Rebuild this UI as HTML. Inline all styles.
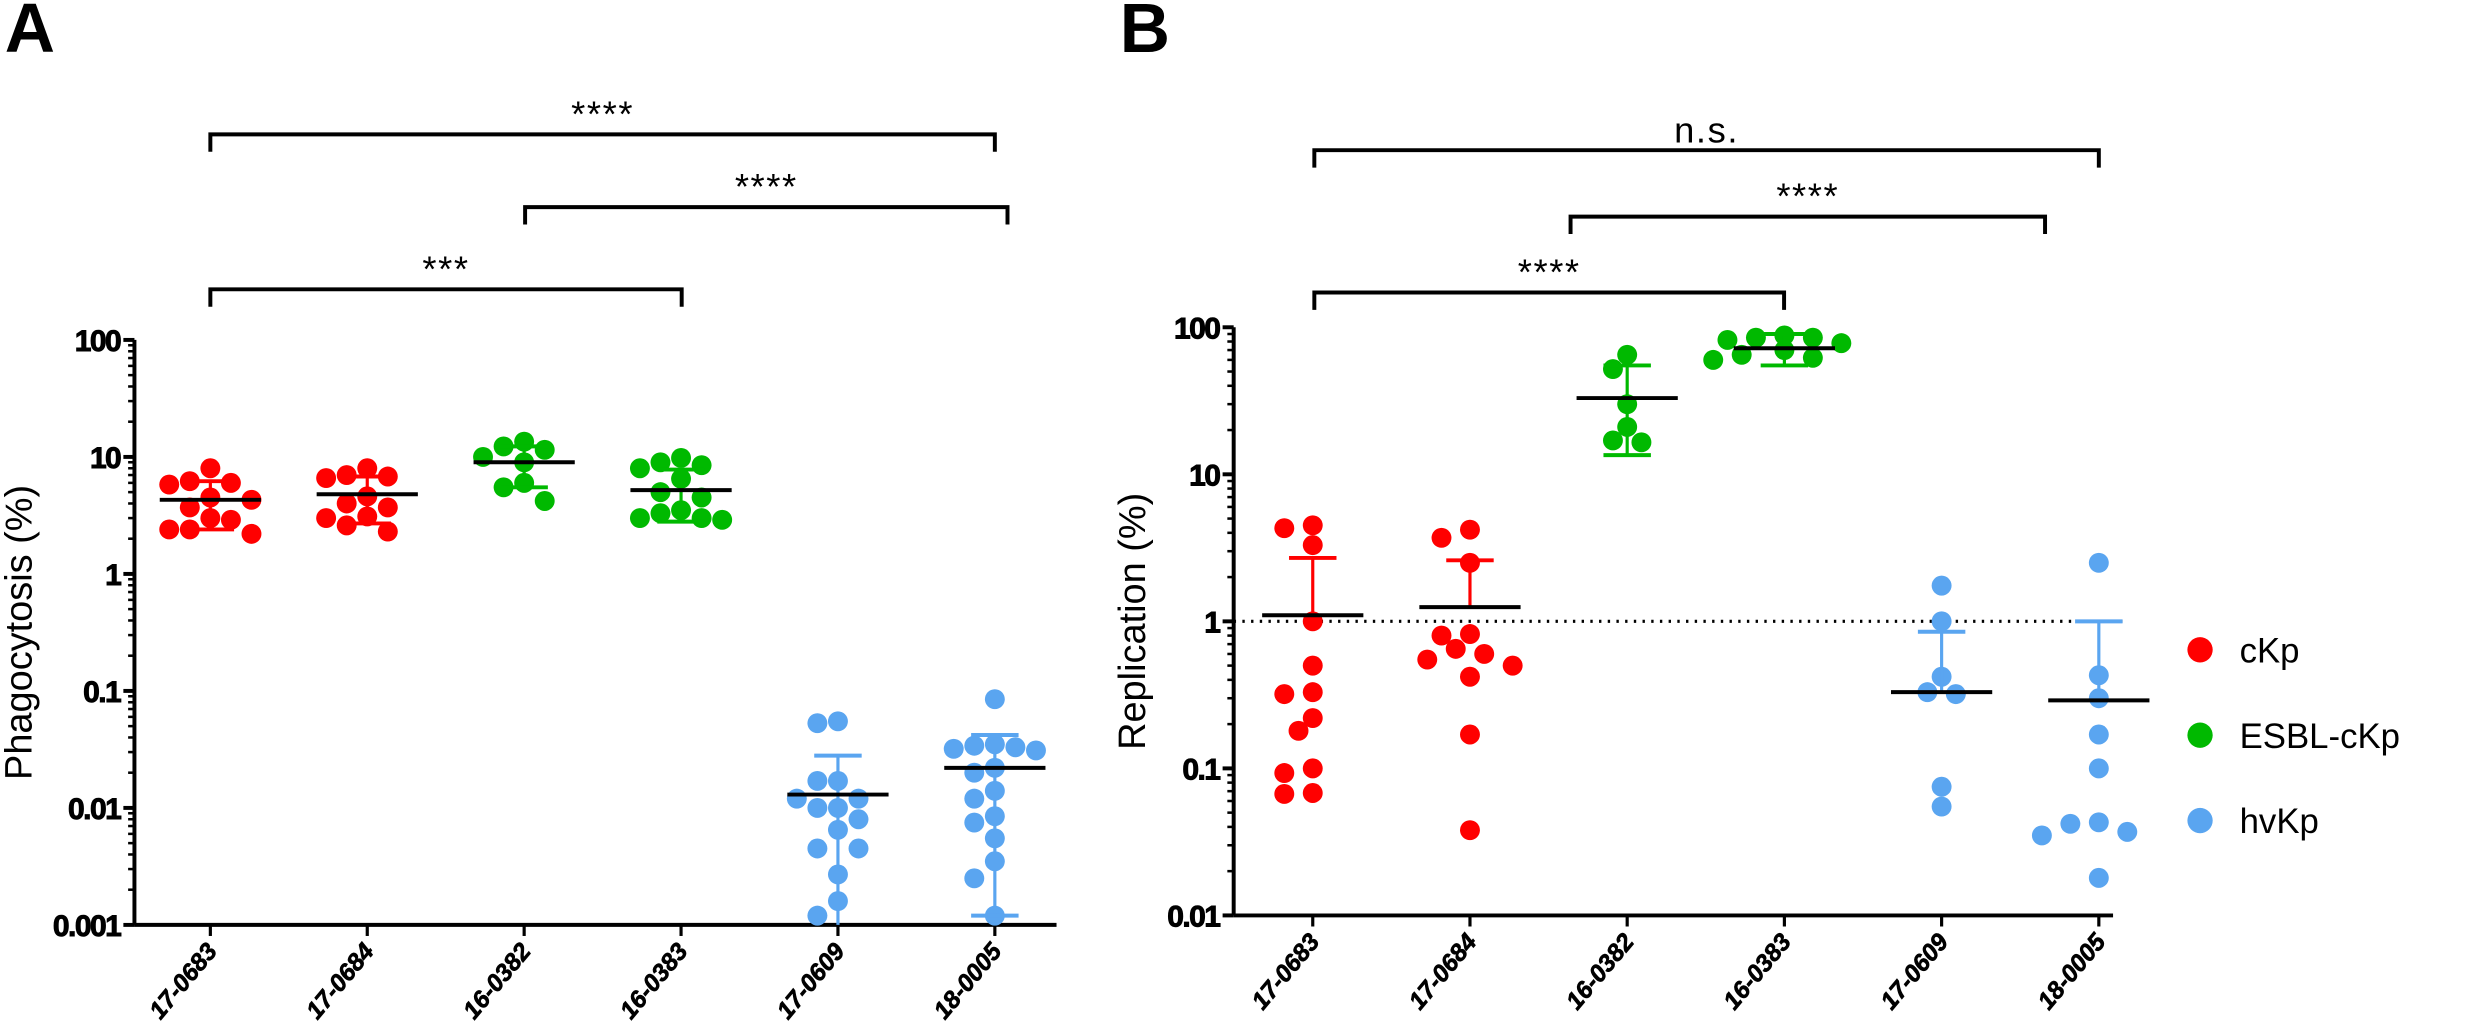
<!DOCTYPE html>
<html><head><meta charset="utf-8"><style>
html,body{margin:0;padding:0;background:#fff;}
svg{display:block;}
text{font-family:"Liberation Sans",sans-serif;}
</style></head><body>
<svg id="fig" width="2480" height="1034" viewBox="0 0 1568 654" preserveAspectRatio="none" xmlns="http://www.w3.org/2000/svg">
<text x="3" y="33" font-size="44" font-weight="bold">A</text>
<text x="708" y="33" font-size="44" font-weight="bold">B</text>
<g id="pa"></g>
<g id="pb"></g>
<g>
<g><circle cx="1391" cy="411" r="8" fill="#ff0000"/><text x="1416" y="419" font-size="22">cKp</text></g>
<g><circle cx="1391" cy="465" r="8" fill="#00b900"/><text x="1416" y="473" font-size="22">ESBL-cKp</text></g>
<g><circle cx="1391" cy="519" r="8" fill="#5aa5f0"/><text x="1416" y="527" font-size="22">hvKp</text></g>
</g>
</svg>
<script>
const categories = ["17-0683","17-0684","16-0382","16-0383","17-0609","18-0005"];
const groupOfCat = ["cKp","cKp","ESBL","ESBL","hvKp","hvKp"];
const yTickLabelsA = ["100","10","1","0.1","0.01","0.001"];
const yTickLabelsB = ["100","10","1","0.1","0.01"];
// Panel A: phagocytosis (%)
const phagoA1 = [8, 6.2, 6, 5.8, 4.5, 4.3, 3.7, 3, 2.9, 2.4, 2.4, 2.2];
const phagoA2 = [8, 7, 6.8, 6.6, 4.6, 4, 3.7, 3.1, 3, 2.6, 2.3];
const phagoA3 = [13.5, 12.3, 11.5, 10, 9, 6, 5.5, 4.2];
const phagoA4 = [9.8, 9, 8.5, 8, 6.5, 5, 4.5, 3.5, 3.3, 3, 3, 2.9];
const phagoA5 = [0.055, 0.053, 0.017, 0.017, 0.012, 0.012, 0.01, 0.01, 0.008, 0.0065, 0.0045, 0.0045, 0.0027, 0.0016, 0.0012];
const phagoA6 = [0.085, 0.035, 0.034, 0.033, 0.032, 0.031, 0.022, 0.02, 0.014, 0.012, 0.0085, 0.0075, 0.0055, 0.0035, 0.0025, 0.0012];
const meanA = [4.3, 4.8, 9, 5.2, 0.013, 0.022];
const errLowA = [2.4, 2.7, 5.5, 2.8, 0.0009, 0.0012];
const errHighA = [6.2, 6.8, 12.3, 7.8, 0.028, 0.042];
// Panel B: replication (%)
const repB1 = [4.5, 4.3, 3.3, 1.0, 0.5, 0.33, 0.32, 0.22, 0.18, 0.1, 0.093, 0.068, 0.067];
const repB2 = [4.2, 3.7, 2.5, 0.82, 0.8, 0.65, 0.6, 0.55, 0.5, 0.42, 0.17, 0.038];
const repB3 = [65, 52, 30, 21, 17, 16.5];
const repB4 = [88, 85, 85, 82, 78, 70, 65, 62, 60];
const repB5 = [1.75, 1.0, 0.42, 0.33, 0.32, 0.075, 0.055];
const repB6 = [2.5, 0.43, 0.3, 0.17, 0.1, 0.043, 0.042, 0.037, 0.035, 0.018];
const meanB = [1.1, 1.25, 33, 72, 0.33, 0.29];
const errLowB = [null, null, 13.5, 55, null, null];
const errHighB = [2.7, 2.6, 55, 90, 0.85, 1.0];
const sigLabelsA = ["****","****","***"];
const sigLabelsB = ["n.s.","****","****"];

const NS="http://www.w3.org/2000/svg";
const colors={cKp:"#ff0000",ESBL:"#00b900",hvKp:"#5aa5f0"};
function mk(tag,attrs,parent){const e=document.createElementNS(NS,tag);for(const k in attrs)e.setAttribute(k,attrs[k]);parent.appendChild(e);return e;}

function drawPanel(g, cfg){
  const yS=v=>cfg.yTop+(Math.log10(cfg.vTop)-Math.log10(v))*cfg.dec;
  const xS=i=>cfg.x0+i*cfg.step;
  const ya=mk("line",{x1:cfg.ax,x2:cfg.ax,y1:cfg.yTop,y2:cfg.yBot,stroke:"#000","stroke-width":2.5},g);
  
  
  const ndec=cfg.yLabels.length-1;
  for(let d=0;d<=ndec;d++){
    const v=cfg.vTop/Math.pow(10,d);
    const y=yS(v);
    mk("line",{x1:cfg.ax-7,x2:cfg.ax,y1:y,y2:y,stroke:"#000","stroke-width":2.5},g);
    const t=mk("text",{x:cfg.ax-9,y:y+7,"font-size":19,"font-weight":"bold","text-anchor":"end","letter-spacing":"-1",stroke:"#000","stroke-width":0.6},g);
    t.textContent=cfg.yLabels[d];
    
    
    if(d<ndec){for(let m=2;m<=9;m++){const yy=yS(v/10*m);mk("line",{x1:cfg.ax-4,x2:cfg.ax,y1:yy,y2:yy,stroke:"#000","stroke-width":1.6},g);}}
  }
  const xa=mk("line",{x1:cfg.ax,x2:cfg.xEnd,y1:cfg.yBot,y2:cfg.yBot,stroke:"#000","stroke-width":2.5},g);
  
  
  categories.forEach((c,i)=>{
    const x=xS(i);
    mk("line",{x1:x,x2:x,y1:cfg.yBot,y2:cfg.yBot+7,stroke:"#000","stroke-width":2},g);
    const t=mk("text",{x:x+5,y:cfg.yBot+17,"font-size":15.5,"font-weight":"bold","font-style":"italic","text-anchor":"end",stroke:"#000","stroke-width":0.4,transform:`rotate(-50 ${x+5} ${cfg.yBot+17})`},g);
    t.textContent=c;
    
    
  });
  const tt=mk("text",{x:0,y:0,"font-size":24,"text-anchor":"middle",transform:`translate(${cfg.titleX},${(cfg.yTop+cfg.yBot)/2}) rotate(-90)`},g);
  tt.textContent=cfg.title;
  
  
  if(cfg.refLine){
    const rl=mk("line",{x1:cfg.ax,x2:cfg.xEnd+6,y1:yS(1),y2:yS(1),stroke:"#000","stroke-width":2,"stroke-dasharray":"1.5 4"},g);
    
    
  }
  cfg.series.forEach((arr,i)=>{
    const col=colors[groupOfCat[i]];
    const sg=mk("g",{},g);
    
    
    const used=[];
    arr.forEach((v,j)=>{
      const y=yS(v);
      let dx=0;
      for(const k of [0,-1,1,-2,2,-3,3,-4,4,-5,5]){
        const o=k*cfg.dstep;
        if(!used.some(p=>Math.hypot(p[0]-o,p[1]-y)<cfg.coll)){dx=o;break;}
      }
      used.push([dx,y]);
      const c=mk("circle",{cx:xS(i)+dx,cy:y,r:6.3,fill:col},sg);
      
      
    });
    const x=xS(i), m=yS(cfg.mean[i]);
    const hi=yS(cfg.hi[i]);
    const lo=cfg.lo[i]==null?m:Math.min(yS(cfg.lo[i]),cfg.yBot);
    mk("line",{x1:x,x2:x,y1:hi,y2:lo,stroke:col,"stroke-width":2},sg);
    mk("line",{x1:x-15,x2:x+15,y1:hi,y2:hi,stroke:col,"stroke-width":2.5},sg);
    if(cfg.lo[i]!=null&&yS(cfg.lo[i])<cfg.yBot) mk("line",{x1:x-15,x2:x+15,y1:lo,y2:lo,stroke:col,"stroke-width":2.5},sg);
    const ml=mk("line",{x1:x-32,x2:x+32,y1:m,y2:m,stroke:"#000","stroke-width":2.5},sg);
    
    
  });
  cfg.brackets.forEach((b,k)=>{
    const bg=mk("g",{},g);
    
    
    const x1=b[0],x2=b[1],y=b[2];
    mk("path",{d:`M${x1} ${y+11}V${y}H${x2}V${y+11}`,fill:"none",stroke:"#000","stroke-width":2.5},bg);
    const t=mk("text",{x:(x1+x2)/2,y:y-5,"font-size":23,"text-anchor":"middle","letter-spacing":"1"},bg);
    t.textContent=cfg.sig[k];
  });
}
drawPanel(document.getElementById('pa'),{
  ax:85,yTop:215,yBot:585,dec:74,vTop:100,x0:133,step:99.2,xEnd:668,titleX:20,coll:12,dstep:13,
  yLabels:yTickLabelsA,title:"Phagocytosis (%)",
  series:[phagoA1,phagoA2,phagoA3,phagoA4,phagoA5,phagoA6],mean:meanA,lo:errLowA,hi:errHighA,
  brackets:[[133,629,85],[332,637,131],[133,431,183]],sig:sigLabelsA,refLine:false
});
drawPanel(document.getElementById('pb'),{
  ax:780,yTop:207,yBot:579,dec:93,vTop:100,x0:830,step:99.4,xEnd:1336,titleX:724,coll:12,dstep:9,
  yLabels:yTickLabelsB,title:"Replication (%)",
  series:[repB1,repB2,repB3,repB4,repB5,repB6],mean:meanB,lo:errLowB,hi:errHighB,
  brackets:[[831,1327,95],[993,1293,137],[831,1128,185]],sig:sigLabelsB,refLine:true
});
</script>
</body></html>
